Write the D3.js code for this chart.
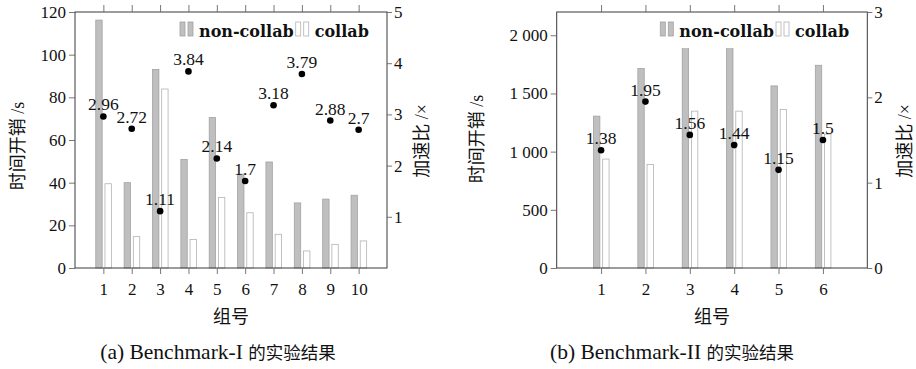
<!DOCTYPE html>
<html>
<head>
<meta charset="utf-8">
<script src="https://cdn.jsdelivr.net/npm/d3@7/dist/d3.min.js"></script>
<style>
body { margin: 0; background: #fff; }
svg { display: block; }
.num { font-family: "Liberation Serif", "Times New Roman", serif; font-size: 17px; fill: #111; }
.title { font-family: "Liberation Serif", "Noto Sans CJK SC", serif; font-size: 18px; fill: #111; }
.legend { font-family: "DejaVu Serif", serif; font-weight: bold; font-size: 16px; fill: #111; }
.cap { font-family: "Liberation Serif", "Noto Sans CJK SC", serif; fill: #111; }
</style>
</head>
<body>
<svg id="chart" width="916" height="369"></svg>
<script>
// Benchmark-I
const groupsA = [1, 2, 3, 4, 5, 6, 7, 8, 9, 10];
const nonCollabA = [116.2, 40, 93.1, 50.9, 70.5, 44, 49.7, 30.5, 32.3, 34.1];
const collabA = [39.5, 14.7, 83.9, 13.4, 33.1, 25.9, 15.8, 8, 11.1, 12.7];
const speedupA = [2.96, 2.72, 1.11, 3.84, 2.14, 1.7, 3.18, 3.79, 2.88, 2.7];
const timeTicksA = [0, 20, 40, 60, 80, 100, 120];
const speedTicksA = [1, 2, 3, 4, 5];

// Benchmark-II
const groupsB = [1, 2, 3, 4, 5, 6];
const nonCollabB = [1305, 1714, 2100, 1940, 1565, 1742];
const collabB = [936, 890, 1348, 1348, 1362, 1150];
const speedupB = [1.38, 1.95, 1.56, 1.44, 1.15, 1.5];
const timeTicksB = [0, 500, 1000, 1500, 2000];
const speedTicksB = [0, 1, 2, 3];

const legendLabels = ['non-collab', 'collab'];

const svg = d3.select('#chart');
const TOP = 12, BOTTOM = 268;

const thousands = d => d >= 1000 ? d3.format(',')(d).replace(',', ' ') : String(d);

function drawPanel(p) {
    const g = svg.append('g');
    const x = d3.scaleLinear().domain([0, p.groups.length + 1]).range([p.left, p.right]);
    const y = d3.scaleLinear().domain([0, p.yMax]).range([BOTTOM, TOP]);
    const y2 = d3.scaleLinear().domain([0, p.y2Max]).range([BOTTOM, TOP]);

    // bars
    g.selectAll('.nc').data(p.nonCollab).join('rect')
        .attr('x', (d, i) => x(p.groups[i]) - 7.6)
        .attr('y', d => y(d))
        .attr('width', 6.4)
        .attr('height', d => BOTTOM - y(d))
        .attr('fill', '#bfbfbf')
        .attr('stroke', '#a2a2a2')
        .attr('stroke-width', 0.8);

    g.selectAll('.co').data(p.collab).join('rect')
        .attr('x', (d, i) => x(p.groups[i]) + 1.6)
        .attr('y', d => y(d))
        .attr('width', 6.4)
        .attr('height', d => BOTTOM - y(d))
        .attr('fill', '#fff')
        .attr('stroke', '#b2b2b2')
        .attr('stroke-width', 0.8);

    // legend (white box hides what is under it)
    const lx = p.right - 207;
    const leg = g.append('g');
    leg.append('rect')
        .attr('x', lx - 4).attr('y', 15)
        .attr('width', 204).attr('height', 33)
        .attr('fill', '#fff');
    let cx = lx;
    legendLabels.forEach((name, k) => {
        [0, 8].forEach(off => {
            leg.append('rect')
                .attr('x', cx + off).attr('y', 22)
                .attr('width', 5).attr('height', 14)
                .attr('fill', k === 0 ? '#bfbfbf' : '#fff')
                .attr('stroke', k === 0 ? '#a2a2a2' : '#b2b2b2')
                .attr('stroke-width', 0.8);
        });
        const t = leg.append('text')
            .attr('class', 'legend')
            .attr('x', cx + 19).attr('y', 36.5)
            .text(name);
        cx += 19 + t.node().getComputedTextLength() + 2;
    });

    // frame
    g.append('rect')
        .attr('x', p.left).attr('y', TOP)
        .attr('width', p.right - p.left).attr('height', BOTTOM - TOP)
        .attr('fill', 'none')
        .attr('stroke', '#3a3a3a')
        .attr('stroke-width', 1);

    // axes
    const styleAxis = sel => {
        sel.select('.domain').remove();
        sel.selectAll('line').attr('stroke', '#555').attr('stroke-width', 0.8);
        sel.selectAll('text').attr('class', 'num').attr('fill', null);
        sel.attr('font-family', null).attr('font-size', null);
    };

    g.append('g').attr('transform', `translate(0,${BOTTOM})`)
        .call(d3.axisBottom(x).tickValues(p.groups).tickSize(6).tickPadding(9).tickFormat(d3.format('d')))
        .call(styleAxis);
    g.append('g').attr('transform', `translate(0,${TOP})`)
        .call(d3.axisTop(x).tickValues(p.groups).tickSize(7).tickFormat(''))
        .call(styleAxis);
    g.append('g').attr('transform', `translate(${p.left},0)`)
        .call(d3.axisLeft(y).tickValues(p.timeTicks).tickSize(6).tickPadding(3).tickFormat(p.fmt))
        .call(styleAxis);
    g.append('g').attr('transform', `translate(${p.right},0)`)
        .call(d3.axisRight(y2).tickValues(p.speedTicks).tickSize(5).tickPadding(2).tickFormat(d3.format('d')))
        .call(styleAxis);

    // speedup points
    g.selectAll('.pt').data(p.speedup).join('circle')
        .attr('cx', (d, i) => x(p.groups[i]))
        .attr('cy', d => y2(d))
        .attr('r', 3.3)
        .attr('fill', '#000');
    g.selectAll('.pl').data(p.speedup).join('text')
        .attr('class', 'num')
        .style('font-size', '17.5px')
        .attr('x', (d, i) => x(p.groups[i]))
        .attr('y', d => y2(d) - 6)
        .attr('text-anchor', 'middle')
        .text(d => d);

    // axis titles
    g.append('text').attr('class', 'title')
        .attr('transform', `translate(${p.left - p.leftTitleOff},${p.leftTitleY}) rotate(-90)`)
        .attr('text-anchor', 'middle').attr('dominant-baseline', 'central')
        .text('时间开销 /s');
    g.append('text').attr('class', 'title')
        .attr('transform', `translate(${p.right + p.rightTitleOff},141) rotate(-90)`)
        .attr('text-anchor', 'middle').attr('dominant-baseline', 'central')
        .text('加速比 /×');
    g.append('text').attr('class', 'title')
        .attr('x', (p.left + p.right) / 2).attr('y', 323)
        .attr('text-anchor', 'middle')
        .text('组号');

    // caption
    const cap = g.append('text')
        .attr('class', 'cap')
        .attr('x', p.capX).attr('y', 359)
        .attr('text-anchor', 'middle');
    cap.append('tspan').style('font-size', '21.5px').text(p.capLatin + ' ');
    cap.append('tspan').style('font-size', '17.5px').text('的实验结果');
}

drawPanel({
    groups: groupsA, nonCollab: nonCollabA, collab: collabA, speedup: speedupA,
    timeTicks: timeTicksA, speedTicks: speedTicksA,
    left: 75, right: 387, yMax: 120, y2Max: 5, fmt: d3.format('d'),
    leftTitleOff: 57, leftTitleY: 146, rightTitleOff: 35,
    capX: 218, capLatin: '(a) Benchmark-I'
});

drawPanel({
    groups: groupsB, nonCollab: nonCollabB, collab: collabB, speedup: speedupB,
    timeTicks: timeTicksB, speedTicks: speedTicksB,
    left: 556.7, right: 867.3, yMax: 2200, y2Max: 3, fmt: thousands,
    leftTitleOff: 80, leftTitleY: 139, rightTitleOff: 38,
    capX: 672, capLatin: '(b) Benchmark-II'
});
</script>
</body>
</html>
